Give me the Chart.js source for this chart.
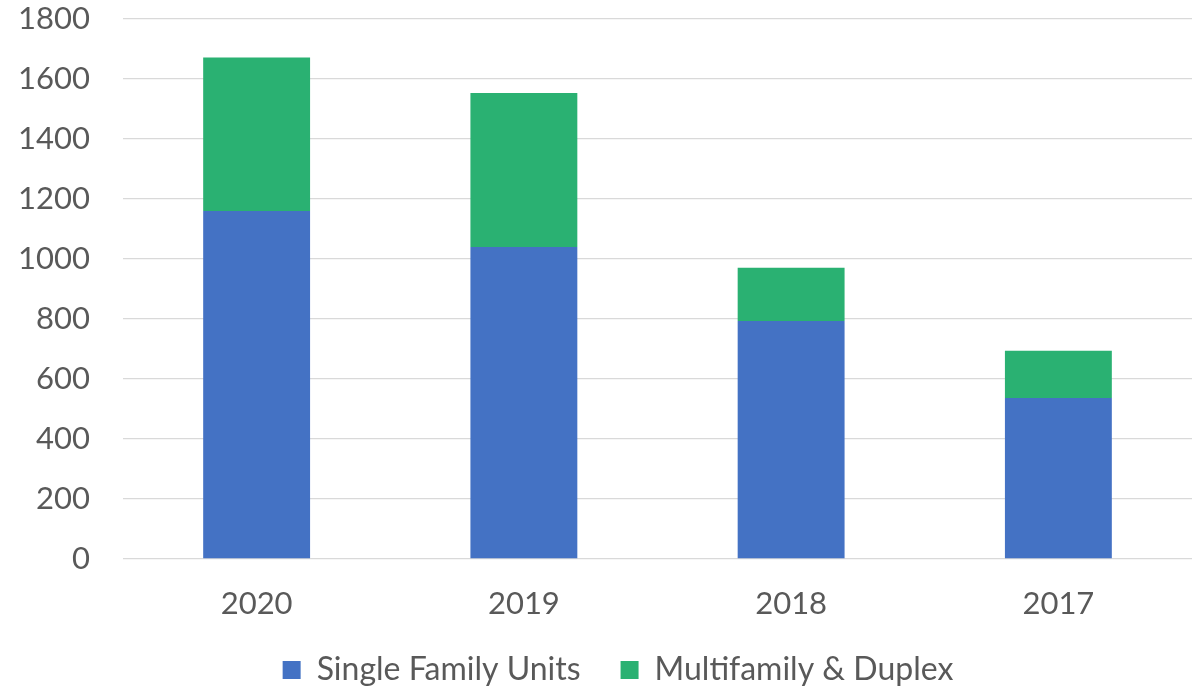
<!DOCTYPE html>
<html>
<head>
<meta charset="utf-8">
<script src="https://cdn.jsdelivr.net/npm/chart.js@4/dist/chart.umd.min.js"></script>
<style>
  html, body { margin: 0; padding: 0; background: #fff; }
  #wrap { width: 1202px; height: 688px; position: relative; }
</style>
</head>
<body>
<div id="wrap"><canvas id="chart"></canvas></div>
<script>
// Data
const years = ['2020', '2019', '2018', '2017'];
const singleFamily = [1160, 1040, 793, 537];
const multifamily = [512, 513, 178, 157];
const yTicks = [0, 200, 400, 600, 800, 1000, 1200, 1400, 1600, 1800];

const BLUE = '#4472C4';
const GREEN = '#2AB172';
const TEXT = '#595959';
const FONT = 'Lato, "Noto Sans", sans-serif';

const ctx = document.getElementById('chart').getContext('2d');

// Legend padding is wide (for item spacing) but the box height is kept fixed,
// and the whole row is nudged a little right like in the original
const legendFix = {
    id: 'legendFix',
    beforeLayout(chart) {
        const lg = chart.legend;
        if (lg && !lg._fixedFit) {
            const fit = lg.fit;
            lg.fit = function () { fit.call(this); this.height = 74; };
            lg._fixedFit = true;
        }
    },
    afterLayout(chart) {
        const lg = chart.legend;
        if (lg) {
            lg.left += 22;
            lg.right += 22;
        }
    }
};

new Chart(ctx, {
    type: 'bar',
    data: {
        labels: years,
        datasets: [
            { label: 'Single Family Units', data: singleFamily, backgroundColor: BLUE },
            { label: 'Multifamily & Duplex', data: multifamily, backgroundColor: GREEN }
        ]
    },
    plugins: [legendFix],
    options: {
        responsive: true,
        maintainAspectRatio: false,
        animation: false,
        layout: { padding: { top: 19, right: 10, left: 0, bottom: 0 } },
        datasets: { bar: { categoryPercentage: 1, barPercentage: 0.4 } },
        scales: {
            x: {
                stacked: true,
                afterFit: axis => { axis.height = 55; },
                grid: { display: false, drawTicks: false },
                border: { display: false },
                ticks: { color: TEXT, font: { family: FONT, size: 31 }, padding: 26 }
            },
            y: {
                stacked: true,
                min: 0,
                max: 1800,
                afterBuildTicks: axis => { axis.ticks = yTicks.map(v => ({ value: v })); },
                afterFit: axis => { axis.width = 123; },
                // invisible tick marks push the labels left without adding top padding
                grid: { color: '#D9D9D9', lineWidth: 1.3, drawTicks: true, tickLength: 33, tickColor: 'rgba(0,0,0,0)' },
                border: { display: false },
                ticks: {
                    color: TEXT,
                    font: { family: FONT, size: 31 },
                    padding: 0,
                    callback: v => String(v)
                }
            }
        },
        plugins: {
            legend: {
                position: 'bottom',
                labels: {
                    color: TEXT,
                    font: { family: FONT, size: 32 },
                    boxWidth: 18,
                    boxHeight: 18,
                    padding: 40
                }
            },
            tooltip: { enabled: false }
        }
    }
});
</script>
</body>
</html>
